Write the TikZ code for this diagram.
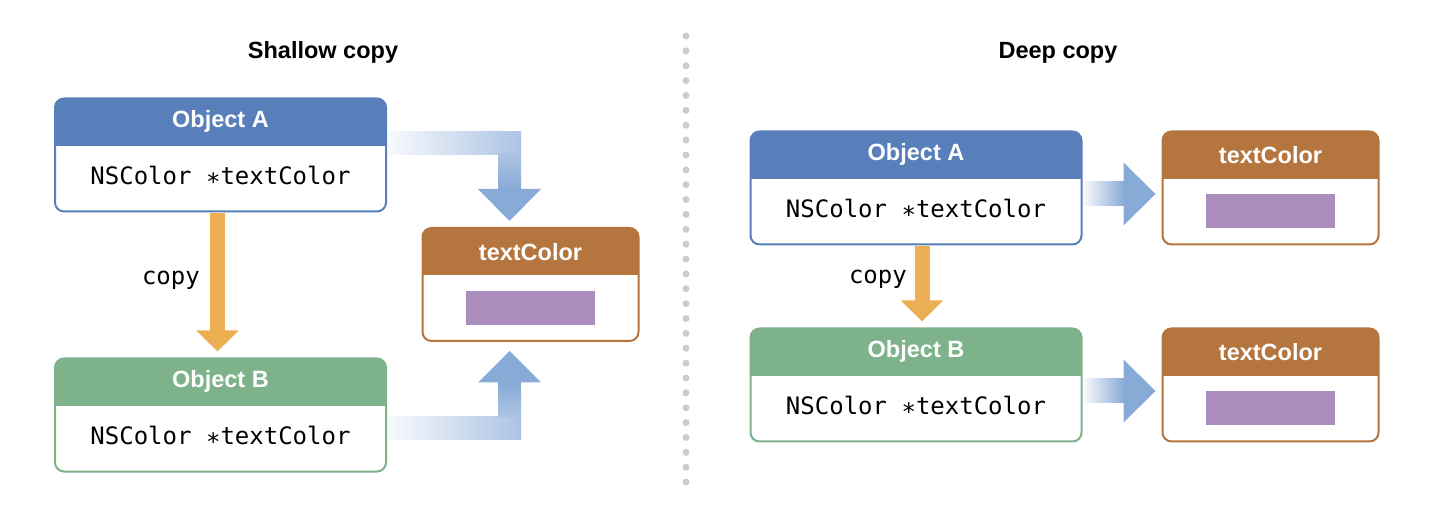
\documentclass[tikz,border=0pt]{standalone}
\usepackage{fontspec}
\setmainfont{Liberation Sans}
\setmonofont{DejaVu Sans Mono}
\usepackage{tikz}
\usetikzlibrary{positioning,arrows.meta}

\definecolor{headA}{HTML}{587FBA}
\definecolor{headB}{HTML}{7EB28B}
\definecolor{headC}{HTML}{B4753F}
\definecolor{copyorange}{HTML}{ECAE52}
\definecolor{tcpurple}{HTML}{AA8CBD}
\definecolor{flow}{HTML}{88AAD7}
\definecolor{dotgray}{HTML}{CCCCCC}

\tikzset{
  objbox/.style={draw=#1, fill=white, line width=2pt, rounded corners=9pt,
    minimum width=331pt, minimum height=113pt, inner sep=0pt,
    path picture={\fill[#1, sharp corners] ([yshift=2pt]path picture bounding box.north west)
      rectangle ([yshift=-47.5pt]path picture bounding box.north east);}},
  valbox/.style={objbox=headC, minimum width=216pt},
  swatch/.style={fill=tcpurple, minimum width=129pt, minimum height=34pt, inner sep=0pt},
  titletext/.style={font=\bfseries\fontsize{23.5}{28}\selectfont, anchor=base},
  headtext/.style={text=white, font=\bfseries\fontsize{23.5}{28}\selectfont, anchor=base},
  codetext/.style={font=\ttfamily\fontsize{24}{28}\selectfont, anchor=base, inner sep=0pt},
  copyarrow/.style={draw=copyorange, line width=15pt, -{Triangle[width=41pt,length=21pt]}},
}
\newcommand{\ptr}{\raisebox{-0.45ex}{*}}

\begin{document}
\begin{tikzpicture}[x=1pt, y=-1pt]
  \useasboundingbox (0,0) rectangle (1438,518);

  % Titles
  \node[titletext] (shallowTitle) at (323,58.5) {Shallow copy};
  \node[titletext] (deepTitle)    at (1058,58.5) {Deep copy};

  % Separator
  \foreach \k in {0,...,30}
    \fill[dotgray] (686,36+14.87*\k) circle (3.5pt);

  % Shallow copy: define nodes
  \node[objbox=headA] (objLA) at (220.5,155) {};
  \node[objbox=headB] (objLB) at (220.5,415) {};
  \node[valbox]       (tcL)   at (530.5,284.5) {};
  \node[headtext] (objLAname) at ([yshift=-30.5pt]objLA.north) {Object A};
  \node[codetext] (objLAvar)  at ([yshift=-87.5pt]objLA.north) {NSColor \ptr textColor};
  \node[headtext] (objLBname) at ([yshift=-30.5pt]objLB.north) {Object B};
  \node[codetext] (objLBvar)  at ([yshift=-87.5pt]objLB.north) {NSColor \ptr textColor};
  \node[headtext] (tcLname)   at ([yshift=-33.5pt]tcL.north) {textColor};
  \node[swatch]   (tcLval)    at ([yshift=-24pt]tcL.center) {};

  % copy arrow
  \draw[copyarrow] ([xshift=-3pt,yshift=-1pt]objLA.south) -- ([xshift=-3pt,yshift=6pt]objLB.north);
  \node[codetext, anchor=base east] (copyL) at (200,285) {copy};

  % pointer arrows to the shared textColor
  \coordinate (bendA) at (509.5,143);
  \path (bendA |- tcL.north) ++(0,-6) coordinate (tipA);
  \shade[left color=flow!6, right color=flow!70] ([xshift=1pt,yshift=23.5pt]objLA.east)
    rectangle ([xshift=11.5pt,yshift=-11.5pt]bendA);
  \shade[top color=flow!70, bottom color=flow] ([xshift=-11.5pt,yshift=-11pt]bendA)
    rectangle ([xshift=11.5pt,yshift=32.5pt]tipA);
  \fill[flow] ([xshift=-31.5pt,yshift=32pt]tipA) -- ([xshift=31.5pt,yshift=32pt]tipA) -- (tipA) -- cycle;

  \coordinate (bendB) at (509.5,428.5);
  \path (bendB |- tcL.south) ++(0,9) coordinate (tipB);
  \shade[left color=flow!6, right color=flow!70] ([xshift=1pt,yshift=-2pt]objLB.east)
    rectangle ([xshift=11.5pt,yshift=-11.5pt]bendB);
  \shade[top color=flow, bottom color=flow!70] ([xshift=-11.5pt,yshift=-31pt]tipB)
    rectangle ([xshift=11.5pt,yshift=12pt]bendB);
  \fill[flow] ([xshift=-31.5pt,yshift=-31.5pt]tipB) -- ([xshift=31.5pt,yshift=-31.5pt]tipB) -- (tipB) -- cycle;

  % Deep copy: define nodes
  \node[objbox=headA]                   (objRA) at (916,188) {};
  \node[objbox=headB, below=82pt of objRA] (objRB) {};
  \node[valbox, right=79pt of objRA]    (tcRA) {};
  \node[valbox, right=79pt of objRB]    (tcRB) {};
  \node[headtext] (objRAname) at ([yshift=-30.5pt]objRA.north) {Object A};
  \node[codetext] (objRAvar)  at ([yshift=-87.5pt]objRA.north) {NSColor \ptr textColor};
  \node[headtext] (objRBname) at ([yshift=-30.5pt]objRB.north) {Object B};
  \node[codetext] (objRBvar)  at ([yshift=-87.5pt]objRB.north) {NSColor \ptr textColor};
  \foreach \v in {tcRA,tcRB} {
    \node[headtext] (\v name) at ([yshift=-33.5pt]\v.north) {textColor};
    \node[swatch]   (\v val)  at ([yshift=-23pt]\v.center) {};
  }

  % copy arrow
  \draw[copyarrow] ([xshift=6pt,yshift=-1pt]objRA.south) -- ([xshift=6pt,yshift=6pt]objRB.north);
  \node[codetext, anchor=base east] (copyR) at (907,284) {copy};

  % pointer arrows to each own textColor
  \foreach \src/\dst in {objRA/tcRA, objRB/tcRB} {
    \path (\dst.west |- \src.east) ++(-6,6) coordinate (tip-\dst);
    \shade[left color=flow!6, right color=flow] ([xshift=1pt,yshift=6pt]\src.east)
      rectangle ([xshift=-31pt,yshift=-12pt]tip-\dst);
    \fill[flow] ([xshift=-32pt,yshift=31.5pt]tip-\dst) -- (tip-\dst) -- ([xshift=-32pt,yshift=-31.5pt]tip-\dst) -- cycle;
  }

\end{tikzpicture}
\end{document}
